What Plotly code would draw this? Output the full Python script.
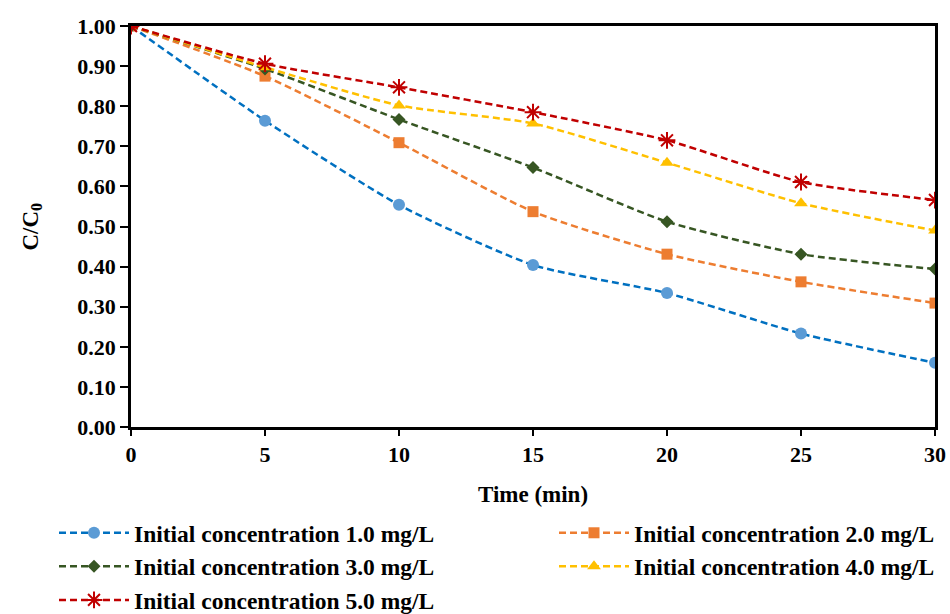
import plotly.graph_objects as go

# Sampling times (min)
time_min = [0, 5, 10, 15, 20, 25, 30]

# Normalised concentration C/C0 for each initial concentration
c_1mg = [1.00, 0.764, 0.554, 0.404, 0.334, 0.233, 0.160]
c_2mg = [1.00, 0.875, 0.709, 0.537, 0.431, 0.362, 0.309]
c_3mg = [1.00, 0.893, 0.767, 0.647, 0.512, 0.431, 0.394]
c_4mg = [1.00, 0.897, 0.802, 0.757, 0.659, 0.558, 0.490]
c_5mg = [1.00, 0.906, 0.847, 0.785, 0.715, 0.611, 0.566]

series_names = [
    "Initial concentration 1.0 mg/L",
    "Initial concentration 2.0 mg/L",
    "Initial concentration 3.0 mg/L",
    "Initial concentration 4.0 mg/L",
    "Initial concentration 5.0 mg/L",
]

FONT = "Liberation Serif, Times New Roman, serif"

styles = [
    dict(line="#0070C0", marker=dict(symbol="circle", size=12, color="#5B9BD5")),
    dict(line="#ED7D31", marker=dict(symbol="square", size=11, color="#ED7D31")),
    dict(line="#375623", marker=dict(symbol="diamond", size=10, color="#375623")),
    dict(line="#FFC000", marker=dict(symbol="triangle-up", size=12, color="#FFC000")),
    dict(line="#C00000", marker=dict(symbol="asterisk-open", size=14, color="#C00000",
                                     line=dict(color="#C00000", width=2))),
]
# left legend column holds 1.0, 3.0, 5.0; right column holds 2.0, 4.0
legend_ids = ["legend", "legend2", "legend", "legend2", "legend"]

fig = go.Figure()
for name, ys, st, lg in zip(series_names, [c_1mg, c_2mg, c_3mg, c_4mg, c_5mg], styles, legend_ids):
    fig.add_trace(go.Scatter(
        x=time_min, y=ys, name=name, mode="lines+markers", legend=lg,
        line=dict(color=st["line"], width=2.5, dash="7px,4px", shape="spline", smoothing=0.6),
        marker=st["marker"],
    ))

legend_font = dict(family=FONT, size=23.5, color="black", weight="bold")
legend_common = dict(
    orientation="v", xref="container", yref="container",
    xanchor="left", yanchor="top", y=(614 - 511) / 614,
    font=legend_font, itemwidth=70, tracegroupgap=0,
    bgcolor="rgba(0,0,0,0)", traceorder="normal",
)

fig.update_layout(
    width=950, height=614,
    margin=dict(l=131, r=15, t=26, b=187, autoexpand=False),
    paper_bgcolor="white", plot_bgcolor="white",
    font=dict(family=FONT, size=22, color="black"),
    showlegend=True,
    legend=dict(x=54 / 950, **legend_common),
    legend2=dict(x=554 / 950, **legend_common),
)

# vertical axis title
fig.add_annotation(
    text="C/C<sub>0</sub>", textangle=-90, showarrow=False,
    xref="paper", yref="paper", x=(31 - 131) / 804, y=0.5,
    xanchor="center", yanchor="middle",
    font=dict(family=FONT, size=23, weight="bold", color="black"),
)

fig.update_xaxes(
    range=[0, 30], tickvals=[0, 5, 10, 15, 20, 25, 30],
    showgrid=False, zeroline=False,
    showline=True, linecolor="black", linewidth=2.5, mirror=True,
    ticks="outside", ticklen=6, tickwidth=2, tickcolor="black",
    tickfont=dict(family=FONT, size=22, weight="bold"),
    title=dict(text="Time (min)", font=dict(family=FONT, size=23, weight="bold"), standoff=20),
)
fig.update_yaxes(
    range=[0, 1.0], tickvals=[i / 10 for i in range(11)], tickformat=".2f",
    showgrid=False, zeroline=False,
    showline=True, linecolor="black", linewidth=2.5, mirror=True,
    ticks="outside", ticklen=8, tickwidth=2, tickcolor="black",
    tickfont=dict(family=FONT, size=22, weight="bold"),
)

fig.write_html("out.html")
